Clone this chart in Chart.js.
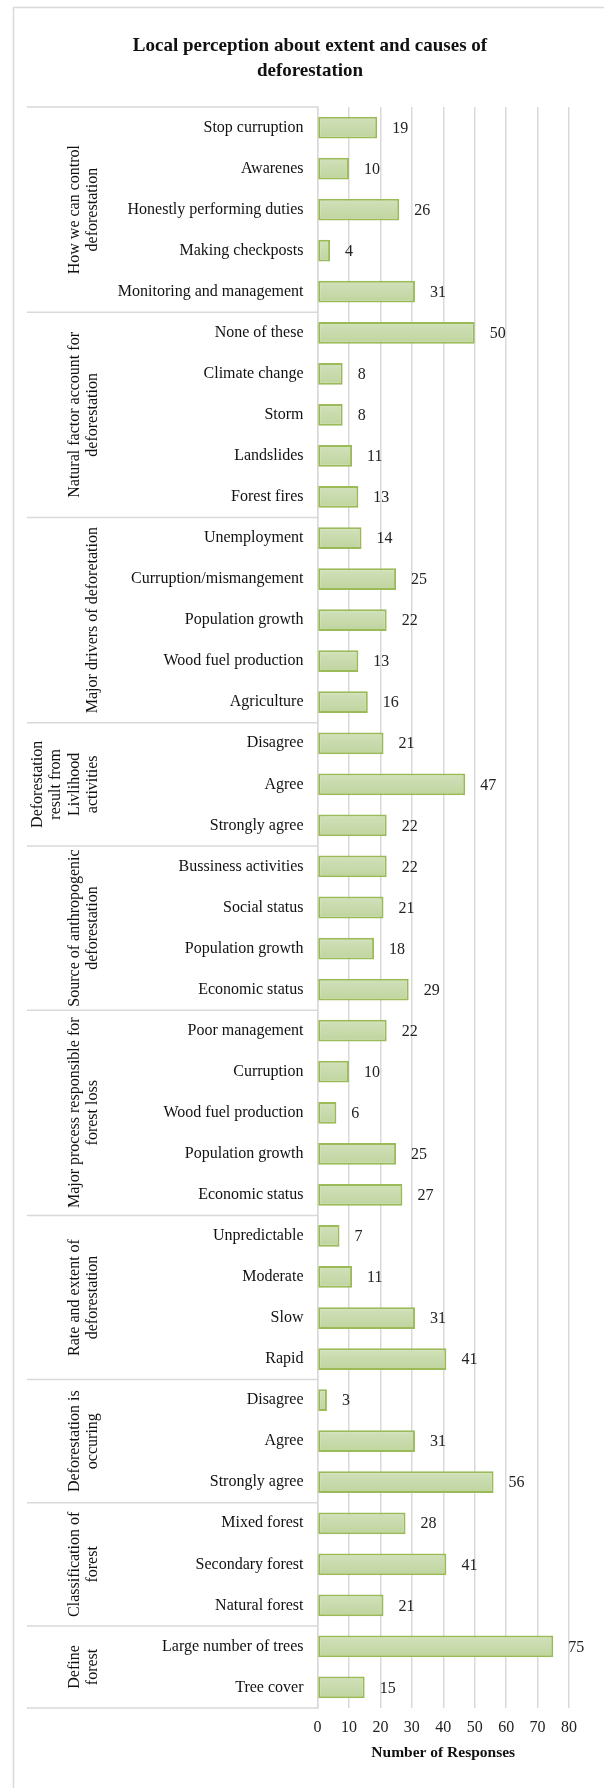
<!DOCTYPE html>
<html lang="en">
<head>
<meta charset="UTF-8">
<title>Local perception about extent and causes of deforestation</title>
<script src="https://cdn.jsdelivr.net/npm/chart.js"></script>
<style>
  html, body { margin: 0; padding: 0; background: #fff; }
  #wrap { position: relative; width: 604px; height: 1788px; }
</style>
</head>
<body>
<div id="wrap">
  <canvas id="forestChart" width="604" height="1788"></canvas>
</div>

<script>
// category labels, top to bottom
var categories = [
  'Stop curruption', 'Awarenes', 'Honestly performing duties', 'Making checkposts', 'Monitoring and management',
  'None of these', 'Climate change', 'Storm', 'Landslides', 'Forest fires',
  'Unemployment', 'Curruption/mismangement', 'Population growth', 'Wood fuel production', 'Agriculture',
  'Disagree', 'Agree', 'Strongly agree',
  'Bussiness activities', 'Social status', 'Population growth', 'Economic status',
  'Poor management', 'Curruption', 'Wood fuel production', 'Population growth', 'Economic status',
  'Unpredictable', 'Moderate', 'Slow', 'Rapid',
  'Disagree', 'Agree', 'Strongly agree',
  'Mixed forest', 'Secondary forest', 'Natural forest',
  'Large number of trees', 'Tree cover'
];

var responses = [
  19, 10, 26, 4, 31,
  50, 8, 8, 11, 13,
  14, 25, 22, 13, 16,
  21, 47, 22,
  22, 21, 18, 29,
  22, 10, 6, 25, 27,
  7, 11, 31, 41,
  3, 31, 56,
  28, 41, 21,
  75, 15
];

// group labels (lines) and how many categories each group holds
var groupNames = [
  ['How we can control', 'deforestation'],
  ['Natural factor account for', 'deforestation'],
  ['Major drivers of deforetation'],
  ['Deforestation', 'result from', 'Livlihood', 'activities'],
  ['Source of anthropogenic', 'deforestation'],
  ['Major process responsible for', 'forest loss'],
  ['Rate and extent of', 'deforestation'],
  ['Deforestation is', 'occuring'],
  ['Classification of', 'forest'],
  ['Define', 'forest']
];
var groupSizes = [5, 5, 5, 3, 4, 5, 4, 3, 3, 2];

var xTicks = [0, 10, 20, 30, 40, 50, 60, 70, 80];

var serif = "'Liberation Serif', 'Times New Roman', serif";
var lineGray = '#d9d9d9';

// frame round the chart (left and top edges show)
var framePlugin = {
  id: 'frame',
  beforeDraw: function (chart) {
    var ctx = chart.ctx;
    ctx.save();
    ctx.strokeStyle = lineGray;
    ctx.lineWidth = 1.5;
    ctx.beginPath();
    ctx.moveTo(13.5, 1800);
    ctx.lineTo(13.5, 7.5);
    ctx.lineTo(620, 7.5);
    ctx.stroke();
    ctx.restore();
  }
};

// group separators and rotated group names
var groupPlugin = {
  id: 'groups',
  afterDraw: function (chart) {
    var ctx = chart.ctx;
    var y = chart.scales.y;
    var area = chart.chartArea;
    var step = (area.bottom - area.top) / categories.length;
    ctx.save();
    ctx.strokeStyle = lineGray;
    ctx.lineWidth = 1.5;
    var start = 0;
    ctx.beginPath();
    ctx.moveTo(27, area.top);
    ctx.lineTo(area.left, area.top);
    ctx.stroke();
    ctx.fillStyle = '#111';
    ctx.font = '16px ' + serif;
    ctx.textAlign = 'center';
    ctx.textBaseline = 'middle';
    for (var g = 0; g < groupSizes.length; g++) {
      var end = start + groupSizes[g];
      var yTop = y.getPixelForValue(start) - step / 2;
      var yBot = y.getPixelForValue(end - 1) + step / 2;
      ctx.beginPath();
      ctx.moveTo(27, yBot);
      ctx.lineTo(area.left, yBot);
      ctx.stroke();
      var lines = groupNames[g];
      var mid = (yTop + yBot) / 2;
      for (var i = 0; i < lines.length; i++) {
        var lx = 93 - (lines.length - 1 - i) * 18.5;
        ctx.save();
        ctx.translate(lx, mid);
        ctx.rotate(-Math.PI / 2);
        ctx.fillText(lines[i], 0, 0);
        ctx.restore();
      }
      start = end;
    }
    ctx.restore();
  }
};

// numbers beside the bars
var valuePlugin = {
  id: 'values',
  afterDatasetsDraw: function (chart) {
    var ctx = chart.ctx;
    var meta = chart.getDatasetMeta(0);
    ctx.save();
    ctx.fillStyle = '#222';
    ctx.font = '16px ' + serif;
    ctx.textAlign = 'left';
    ctx.textBaseline = 'middle';
    meta.data.forEach(function (bar, i) {
      ctx.fillText(String(responses[i]), bar.x + 15, bar.y + 1);
    });
    ctx.restore();
  }
};

function barFill(context) {
  var chart = context.chart;
  if (!chart.chartArea || !chart.scales.y) return '#c8dbab';
  var cy = chart.scales.y.getPixelForValue(context.dataIndex);
  var g = chart.ctx.createLinearGradient(0, cy - 11, 0, cy + 11);
  g.addColorStop(0, '#d2e1bb');
  g.addColorStop(1, '#bfd49e');
  return g;
}

var ctx = document.getElementById('forestChart').getContext('2d');
new Chart(ctx, {
  type: 'bar',
  data: {
    labels: categories,
    datasets: [{
      label: 'Number of Responses',
      data: responses,
      backgroundColor: barFill,
      borderColor: '#9bbb59',
      borderWidth: 2,
      borderSkipped: false,
      barPercentage: 0.53,
      categoryPercentage: 1.0
    }]
  },
  options: {
    indexAxis: 'y',
    responsive: false,
    animation: false,
    devicePixelRatio: 1,
    layout: { padding: { top: 0, left: 51, right: 35, bottom: 25.4 } },
    plugins: {
      legend: { display: false },
      tooltip: { enabled: false },
      title: {
        display: true,
        text: ['Local perception about extent and causes of', 'deforestation'],
        color: '#111',
        font: { family: serif, size: 19, weight: 'bold', lineHeight: 1.3 },
        padding: { top: 33.65, bottom: 23.95 }
      }
    },
    scales: {
      x: {
        min: 0,
        max: 80,
        afterBuildTicks: function (scale) {
          scale.ticks = xTicks.map(function (v) { return { value: v }; });
        },
        grid: { color: lineGray, lineWidth: 1.5, drawTicks: false },
        border: { display: false },
        ticks: {
          color: '#222',
          padding: 10.4,
          font: { family: serif, size: 16, lineHeight: 1.2 }
        },
        title: {
          display: true,
          text: 'Number of Responses',
          color: '#111',
          font: { family: serif, size: 15.5, weight: 'bold', lineHeight: 1.2 },
          padding: { top: -4, bottom: 0 }
        }
      },
      y: {
        afterFit: function (scale) { scale.width = 266.5; },
        grid: { display: false, drawTicks: false },
        border: { display: true, color: lineGray, width: 1.5 },
        ticks: {
          color: '#111',
          padding: 14,
          autoSkip: false,
          font: { family: serif, size: 16 }
        }
      }
    }
  },
  plugins: [framePlugin, groupPlugin, valuePlugin]
});
</script>
</body>
</html>
